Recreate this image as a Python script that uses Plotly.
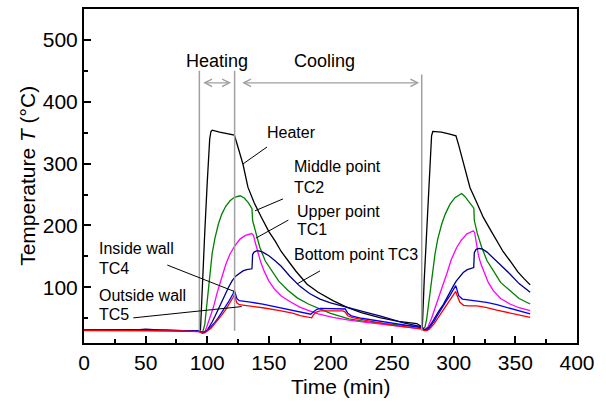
import plotly.graph_objects as go

FONT = "Liberation Sans, Arial, sans-serif"

# ---------------- data ----------------
t_heater = [0, 20, 40, 50, 60, 80, 93.5, 94.5, 96, 98, 100, 101, 102, 103, 104, 110, 116, 122,
            124, 126, 129, 133, 138, 144, 150, 155, 160, 165.6, 172, 181, 190, 202, 213, 225, 240, 255, 270, 273.5,
            274.5, 276, 278, 280, 281, 282, 283, 290, 296, 301.8,
            304, 306, 307.7, 313.2, 318, 324, 330, 334.9, 340, 345.6, 352, 357, 362]
T_heater = [30.5, 31, 31, 30.5, 30.5, 30, 29.5, 31, 110, 190, 270, 310, 340, 352, 354, 351, 349, 346,
            333, 318, 299, 262, 237, 213, 190, 175, 158, 143, 126, 105, 92, 78.5, 68, 59, 51, 45, 41.5, 37,
            36, 110, 190, 270, 315, 345, 352, 351, 348, 345,
            330, 315, 304, 261, 240, 213, 192, 175, 158, 143, 125, 114, 104]

t_tc2 = [0, 30, 50, 70, 93.5, 95, 96.5, 98, 99.5, 101, 102.5, 104, 106.3, 109, 111.7, 115, 118.5, 122, 126.6,
         130, 133.3, 136.3, 136.8, 139, 142.7, 147, 152, 158, 165.6, 173, 182, 191.5, 200, 215, 230, 250, 273.5,
         275, 276.7, 278, 279.5, 280.7, 282, 283.5, 284.8, 287, 290.2, 293, 297, 301, 306.4,
         309, 311.8, 314, 316.3, 316.7, 319, 322.7, 327, 332.1, 338, 345.6, 353, 362]
T_tc2 = [30.5, 31, 30.5, 30, 29, 27, 29, 40, 67, 100, 130, 155, 180, 202, 218, 231, 240, 245.5, 248,
         244.5, 237, 227, 208, 190, 164.5, 143, 127, 110, 95, 83, 73, 65, 58, 49, 44, 40, 36,
         33, 36, 48, 70, 89, 115, 138, 154, 178, 202, 218, 234.5, 245, 251.6,
         247, 240, 234, 228, 208, 188, 164.5, 143, 127, 108, 94.7, 82, 73]

t_tc1 = [0, 30, 50, 70, 93.5, 96, 98, 99.5, 102, 105, 108, 111.7, 115, 118.5, 122, 126.6, 131, 136,
         137.5, 139, 141, 143.5, 146, 150, 155, 160, 167, 175, 183, 190, 202, 215, 229, 250, 273.5,
         276, 279, 282, 286.2, 290, 294.3, 298, 302.4, 306, 310.5, 315.9,
         317, 318.6, 320, 322, 324, 328, 332.1, 338, 345.6, 353, 362]
T_tc1 = [30, 30.5, 30, 29.5, 28.5, 26, 28, 35.5, 50, 67.7, 91, 116, 137, 154, 166, 178, 184, 187,
         184, 172, 157, 140, 127, 110, 96, 86, 77, 68, 62, 57, 51.6, 47, 43.5, 38, 33,
         31, 36, 50, 73, 97, 121.6, 145, 164.5, 176, 186, 191.5,
         188, 168, 152, 138, 127, 108, 94.7, 82, 73, 67, 62.4]

t_tc3 = [0, 20, 40, 45, 50, 55, 60, 80, 93.5, 96, 98, 100, 102, 104, 106, 108, 111, 114, 117, 120, 123, 126,
         129, 132, 136.3, 136.8, 138, 140, 142, 145, 150, 155, 160, 167, 175, 183, 191.5, 200, 208, 218, 229,
         240, 250, 260, 273.5,
         276, 278, 280, 282, 284, 286, 288, 291.5, 294, 297, 299.6, 302, 305, 307.7, 311, 314, 316.2,
         316.7, 318, 320, 323, 327, 332.1, 338, 345.6, 353, 362]
T_tc3 = [31, 31.5, 31, 31.5, 32.5, 31.5, 31, 30, 29.5, 27, 28, 31, 37, 44, 52, 60, 72, 86, 99, 110, 118, 123,
         126.5, 128.5, 130, 153, 157, 159, 159, 157, 151, 143, 134, 118, 102, 90, 81, 75, 70.5, 65, 59.7,
         54, 48, 42, 36.5,
         32, 32.5, 36, 42, 49, 56, 62, 72, 82, 93, 102, 110, 118, 124, 128.5, 131, 132,
         156, 161, 163, 162, 157, 148, 136, 121.6, 106, 92]

t_tc4 = [0, 20, 40, 45, 50, 55, 60, 80, 93.5, 96, 98, 100, 103, 106, 109, 112, 115, 118, 121, 122,
         122.5, 124, 126, 130, 135, 145, 155, 165, 175, 182, 184, 186, 189, 192, 200, 210, 212, 214, 217,
         225, 240, 255, 273.5,
         276, 278, 280, 282, 284, 286, 288, 291, 294, 297, 300, 301.6,
         302.5, 304, 307, 312, 316, 320, 326.7, 335, 345, 355, 362]
T_tc4 = [31, 31, 31, 31.5, 32, 31.5, 31, 30, 29, 26.5, 27, 30, 36, 43, 51, 60, 69, 79, 90, 95,
         92, 82, 78.5, 77, 76, 73, 69, 65, 61, 57.5, 56.5, 60, 64.5, 66, 66, 66, 65, 58, 54,
         50, 45, 40, 35,
         31, 31, 34, 39, 45, 52, 59, 68, 78, 87, 97, 102.7,
         97, 86.6, 81, 79.5, 78.5, 77.5, 75.8, 72, 66, 61, 57]

t_tc5 = [0, 20, 40, 60, 80, 93.5, 96, 98, 100, 103, 106, 109, 112, 115, 118, 121, 122,
         122.5, 124, 126, 130, 135, 145, 159, 170, 175.3, 184.7, 186, 188, 191.5, 200, 210, 212, 214, 218,
         230, 250, 273.5,
         276, 278, 280, 282, 284, 286, 288, 291, 294, 297, 300, 301.6,
         302.5, 304, 305, 308, 312, 318.6, 326, 335, 345, 355, 362]
T_tc5 = [30.5, 30.5, 30, 30, 29.5, 28.5, 26, 26.5, 29, 34, 41, 48, 56, 64, 73, 84, 88,
         84, 75, 72, 71, 69.5, 67, 62.4, 58, 54.4, 50.6, 55, 59.5, 62, 62.5, 62, 60, 54, 51,
         46, 39, 33,
         30, 30, 32, 36, 41, 47, 53, 61, 69, 78, 87, 93.5,
         88, 79, 75.8, 71, 70, 70, 67.5, 63, 58.5, 54.5, 51.6]

series = [
    ("Heater", t_heater, T_heater, "#000000"),
    ("Middle point TC2", t_tc2, T_tc2, "#008000"),
    ("Upper point TC1", t_tc1, T_tc1, "#ff00ff"),
    ("Bottom point TC3", t_tc3, T_tc3, "#000080"),
    ("Inside wall TC4", t_tc4, T_tc4, "#0000ff"),
    ("Outside wall TC5", t_tc5, T_tc5, "#ff0000"),
]

x_ticks = [0, 50, 100, 150, 200, 250, 300, 350, 400]
y_ticks = [100, 200, 300, 400, 500]
phase_times = [93.6, 122.2, 274]

fig = go.Figure()
for name, t, T, c in series:
    fig.add_trace(go.Scatter(x=t, y=T, mode="lines", name=name,
                             line=dict(color=c, width=1.3), showlegend=False))

shapes = []
# phase boundary lines
for i, pt in enumerate(phase_times):
    shapes.append(dict(type="line", xref="x", yref="y", x0=pt, x1=pt, y0=30,
                       y1=450 if i < 2 else 444, line=dict(color="#a0a0a0", width=1.5)))
# leader lines
leaders = [
    (148.5, 326.9, 129.0, 299.5),
    (161.5, 243.0, 138.7, 223.7),
    (165.8, 208.7, 139.6, 179.7),
    (191.5, 126.6, 172.8, 105.5),
    (67.6, 136.0, 121.7, 93.5),
    (40.0, 50.6, 128.0, 68.9),
]
for x0, y0, x1, y1 in leaders:
    shapes.append(dict(type="line", xref="x", yref="y", x0=x0, y0=y0, x1=x1, y1=y1,
                       line=dict(color="#000000", width=1)))

ann = []
labels = [
    ("Heater", 146.9, 351),
    ("Middle point", 168.5, 294.7),
    ("TC2", 168.5, 260.8),
    ("Upper point", 171.2, 222.1),
    ("TC1", 171.2, 193),
    ("Bottom point TC3", 168.7, 152.7),
    ("Inside wall", 10.8, 162.9),
    ("TC4", 10.8, 129.7),
    ("Outside wall", 10.3, 86.6),
    ("TC5", 10.3, 56.5),
]
for txt, x, y in labels:
    ann.append(dict(text=txt, x=x, y=y, xref="x", yref="y", xanchor="left", yanchor="middle",
                    showarrow=False, font=dict(family=FONT, size=16, color="#000000")))
ann.append(dict(text="Heating", x=107.7, y=466, xref="x", yref="y", showarrow=False,
                font=dict(family=FONT, size=18, color="#000000")))
ann.append(dict(text="Cooling", x=195.5, y=466, xref="x", yref="y", showarrow=False,
                font=dict(family=FONT, size=18, color="#000000")))
# double-headed arrows
for xa, xb in [(95.5, 119.3), (127.1, 272.0)]:
    ann.append(dict(x=xb, y=430.6, ax=xa, ay=430.6, xref="x", yref="y", axref="x", ayref="y",
                    text="", showarrow=True, arrowhead=5, startarrowhead=5, arrowside="end+start",
                    arrowsize=1.1, arrowwidth=1.3, arrowcolor="#a0a0a0"))
# axis titles
ann.append(dict(text="Time (min)", x=0.521, y=-0.13, xref="paper", yref="paper",
                xanchor="center", yanchor="middle", showarrow=False,
                font=dict(family=FONT, size=21, color="#000000")))
ann.append(dict(text="Temperature <i>T</i> (°C)", x=-0.116, y=0.5, xref="paper", yref="paper",
                xanchor="center", yanchor="middle", textangle=-90, showarrow=False,
                font=dict(family=FONT, size=21, color="#000000")))

axis_common = dict(showline=True, linecolor="#000000", linewidth=2, mirror=True,
                   ticks="inside", ticklen=7, tickwidth=1.5, tickcolor="#000000",
                   showgrid=False, zeroline=False,
                   tickfont=dict(family=FONT, size=21, color="#000000"))

fig.update_layout(
    width=606, height=402,
    margin=dict(l=84, r=29, t=7, b=59),
    paper_bgcolor="white", plot_bgcolor="white",
    shapes=shapes, annotations=ann,
    xaxis=dict(range=[0, 400], tickvals=x_ticks, ticktext=[str(v) for v in x_ticks],
               minor=dict(dtick=25, tick0=0, ticks="inside", ticklen=4, tickwidth=1.5, tickcolor="#000000"),
               ticklabelstandoff=0, **axis_common),
    yaxis=dict(range=[10, 550], tickvals=y_ticks, ticktext=[str(v) for v in y_ticks],
               minor=dict(dtick=50, tick0=0, ticks="inside", ticklen=4, tickwidth=1.5, tickcolor="#000000"),
               ticklabelstandoff=0, **axis_common),
)

fig.write_html("out.html")
